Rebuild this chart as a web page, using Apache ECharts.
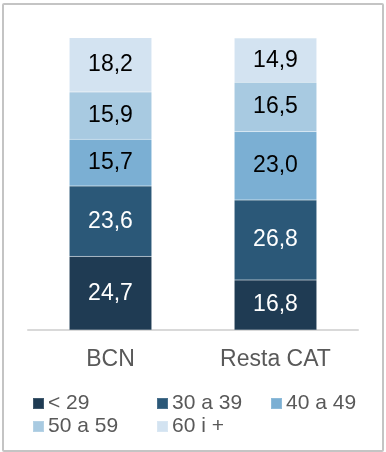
<!DOCTYPE html>
<html><head><meta charset="utf-8">
<script src="https://cdn.jsdelivr.net/npm/echarts@6/dist/echarts.min.js"></script>
<style>
html,body{margin:0;padding:0;background:#fff;}
#frame{position:absolute;left:2px;top:3px;width:378px;height:445px;border:2px solid #c4c4c4;border-radius:2px;}
#c{position:absolute;left:0;top:0;width:386px;height:452px;}
</style></head>
<body><div id="frame"></div><div id="c"></div>
<script>
const categories = ['BCN', 'Resta CAT'];
const seriesNames = ['< 29', '30 a 39', '40 a 49', '50 a 59', '60 i +'];
const s_lt29 = [24.7, 16.8];
const s_30_39 = [23.6, 26.8];
const s_40_49 = [15.7, 23.0];
const s_50_59 = [15.9, 16.5];
const s_60plus = [18.2, 14.9];
const colors = ['#1f3b53', '#2b5878', '#7bafd3', '#a8cae1', '#d3e3f1'];
const labelColors = ['#ffffff', '#ffffff', '#000000', '#000000', '#000000'];
const allData = [s_lt29, s_30_39, s_40_49, s_50_59, s_60plus];
const legendPos = [[32, 393], [156, 393], [270, 393], [32, 416], [156, 416]];

const FONT = 'Liberation Sans, Arial';
const chart = echarts.init(document.getElementById('c'));
chart.setOption({
  animation: false,
  grid: {left: 28, right: 28, top: 32, bottom: 122},
  legend: seriesNames.map((n, i) => ({
    left: legendPos[i][0], top: legendPos[i][1],
    itemWidth: 11, itemHeight: 11, itemGap: 0,
    icon: 'rect', padding: 0,
    data: [n],
    textStyle: {fontFamily: FONT, fontSize: 21, color: '#595959', padding: [0, 0, 0, -1]}
  })),
  xAxis: {
    type: 'category', data: categories,
    axisLine: {lineStyle: {color: '#d9d9d9', width: 2}},
    axisTick: {show: false},
    axisLabel: {fontFamily: FONT, fontSize: 23, color: '#595959', margin: 18}
  },
  yAxis: {type: 'value', min: 0, max: 100, show: false, splitLine: {show: false}},
  series: seriesNames.map((n, i) => ({
    name: n, type: 'bar', stack: 'total', barWidth: '50%',
    data: allData[i],
    itemStyle: {color: colors[i], borderColor: 'rgba(255,255,255,0.15)', borderWidth: 0.5},
    label: {
      show: true, position: 'inside',
      formatter: p => p.value.toFixed(1).replace('.', ','),
      fontFamily: FONT, fontSize: 23, color: labelColors[i]
    }
  }))
});
</script></body></html>
